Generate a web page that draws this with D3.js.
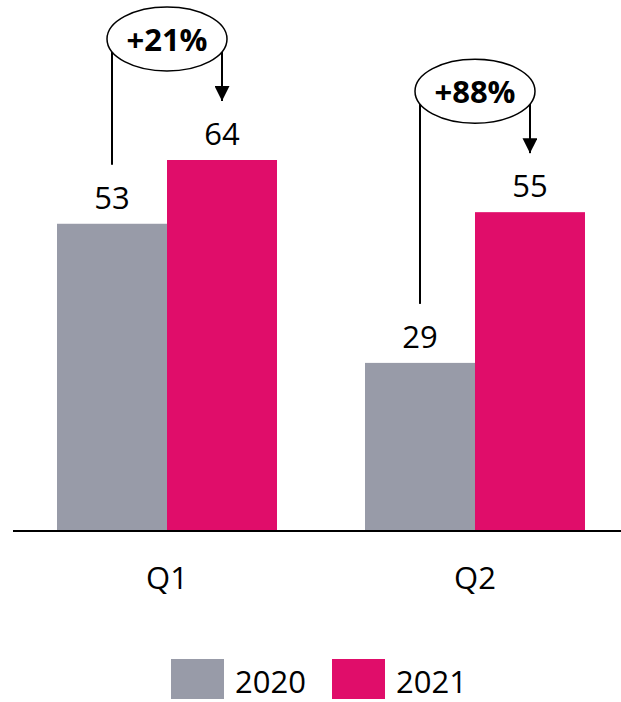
<!DOCTYPE html>
<html lang="en">

<head>
    <meta charset="UTF-8">
    <title>Q1 / Q2</title>
    <script src="https://d3js.org/d3.v7.min.js"></script>
    <style>
        body { margin: 0; background: #fff; }
        text { font-family: "Open Sans", "DejaVu Sans", sans-serif; fill: #000; }
    </style>
</head>

<body>
    <script>
        // data
        const categories = ["Q1", "Q2"];
        const series = ["2020", "2021"];
        const values2020 = [53, 29];
        const values2021 = [64, 55];
        const growthLabels = ["+21%", "+88%"];
        const colors = ["#989ba8", "#e00d6a"];

        const W = 621, H = 702;
        const baseY = 531;

        const svg = d3.select("body")
            .append("svg")
            .attr("width", W)
            .attr("height", H);

        // scales
        const x = d3.scaleBand()
            .domain(categories)
            .range([13, 629])
            .paddingInner(0.2857)
            .paddingOuter(0.1429);

        const xSub = d3.scaleBand()
            .domain(series)
            .range([0, x.bandwidth()]);

        const y = d3.scaleLinear()
            .domain([0, 64])
            .range([baseY, 160]);

        const color = d3.scaleOrdinal().domain(series).range(colors);

        const rows = categories.map((c, i) => ({
            cat: c,
            vals: [values2020[i], values2021[i]],
            growth: growthLabels[i]
        }));

        // bars
        const groups = svg.selectAll("g.grp")
            .data(rows)
            .enter()
            .append("g")
            .attr("class", "grp")
            .attr("transform", d => "translate(" + x(d.cat) + ",0)");

        groups.selectAll("rect")
            .data(d => d.vals.map((v, j) => ({ s: series[j], v: v })))
            .enter()
            .append("rect")
            .attr("x", d => xSub(d.s))
            .attr("y", d => y(d.v))
            .attr("width", xSub.bandwidth())
            .attr("height", d => baseY - y(d.v))
            .attr("fill", d => color(d.s));

        // value labels
        groups.selectAll("text.val")
            .data(d => d.vals.map((v, j) => ({ s: series[j], v: v })))
            .enter()
            .append("text")
            .attr("class", "val")
            .attr("x", d => xSub(d.s) + xSub.bandwidth() / 2)
            .attr("y", d => y(d.v) - 15)
            .attr("text-anchor", "middle")
            .style("font-size", "31px")
            .text(d => d.v);

        // growth annotation: bubble + connector lines + arrow
        svg.append("defs").append("marker")
            .attr("id", "arrow")
            .attr("viewBox", "0 0 10 10")
            .attr("refX", 10)
            .attr("refY", 5)
            .attr("markerUnits", "userSpaceOnUse")
            .attr("markerWidth", 15)
            .attr("markerHeight", 15)
            .attr("orient", "auto")
            .append("path")
            .attr("d", "M0,0 L10,5 L0,10 Z")
            .attr("fill", "#000");

        groups.each(function (d) {
            const g = d3.select(this);
            const cx = x.bandwidth() / 2;
            const cy = y(d3.max(d.vals)) - 121;
            const rx = 60, ry = 32;
            const xl = xSub(series[0]) + xSub.bandwidth() / 2;
            const xr = xSub(series[1]) + xSub.bandwidth() / 2;
            // y where a vertical line at xx meets the ellipse's lower edge
            const edge = xx => cy + ry * Math.sqrt(Math.max(0, 1 - Math.pow((xx - cx) / rx, 2)));

            g.append("line")
                .attr("x1", xl).attr("x2", xl)
                .attr("y1", edge(xl))
                .attr("y2", y(d.vals[0]) - 59)
                .attr("stroke", "#000")
                .attr("stroke-width", 2);

            g.append("line")
                .attr("x1", xr).attr("x2", xr)
                .attr("y1", edge(xr))
                .attr("y2", y(d.vals[1]) - 59)
                .attr("stroke", "#000")
                .attr("stroke-width", 2)
                .attr("marker-end", "url(#arrow)");

            g.append("ellipse")
                .attr("cx", cx).attr("cy", cy)
                .attr("rx", rx).attr("ry", ry)
                .attr("fill", "#fff")
                .attr("stroke", "#000")
                .attr("stroke-width", 1.5);

            g.append("text")
                .attr("x", cx)
                .attr("y", cy + 12)
                .attr("text-anchor", "middle")
                .style("font-size", "31px")
                .style("font-weight", "bold")
                .text(d.growth);
        });

        // x axis
        const xAxis = d3.axisBottom(x).tickSize(0).tickPadding(36);
        const ax = svg.append("g")
            .attr("transform", "translate(0," + baseY + ")")
            .call(xAxis);
        ax.select(".domain").remove();
        ax.append("line")
            .attr("x1", 13).attr("x2", W)
            .attr("stroke", "#000")
            .attr("stroke-width", 2);
        ax.selectAll(".tick text")
            .style("font-family", "'Open Sans', sans-serif")
            .style("font-size", "31px")
            .attr("fill", "#000");

        // legend
        const legendX = [171, 332];
        const legend = svg.selectAll("g.leg")
            .data(series)
            .enter()
            .append("g")
            .attr("class", "leg")
            .attr("transform", (d, i) => "translate(" + legendX[i] + ",659)");

        legend.append("rect")
            .attr("width", 53)
            .attr("height", 40)
            .attr("fill", d => color(d));

        legend.append("text")
            .attr("x", 64)
            .attr("y", 34)
            .style("font-size", "31px")
            .text(d => d);
    </script>
</body>

</html>
